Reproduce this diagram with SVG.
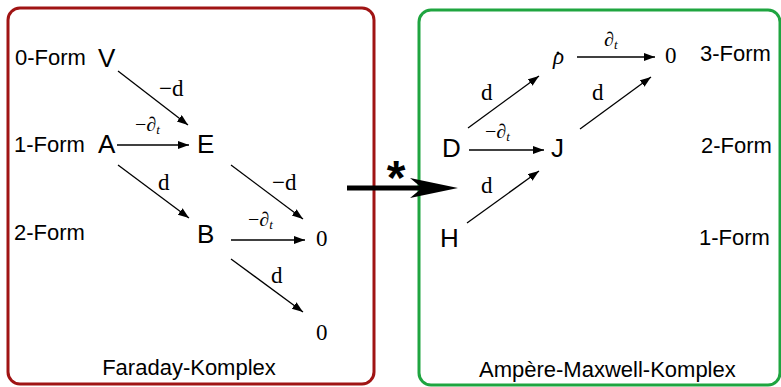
<svg xmlns="http://www.w3.org/2000/svg" width="781" height="387" viewBox="0 0 781 387">
<style>
.lbl{font-family:"Liberation Sans",Arial,sans-serif;font-size:22px;fill:#000}
.big{font-family:"Liberation Sans",Arial,sans-serif;font-size:26px;fill:#000}
.num{font-family:"Liberation Serif","Times New Roman",serif;font-size:23px;fill:#000}
.m{font-family:"Liberation Serif","Times New Roman",serif;font-size:23px;fill:#000}
.s{font-family:"Liberation Serif","Times New Roman",serif;font-size:20px;fill:#000}
.it{font-style:italic}
.sub{font-size:13px;font-style:italic}
.ar{stroke:#000;stroke-width:1.3;fill:none;marker-end:url(#ah)}
</style>
<defs>
<marker id="ah" markerUnits="userSpaceOnUse" markerWidth="12" markerHeight="10" refX="11" refY="4" orient="auto">
<path d="M0,0 L11,4 L0,8 Z" fill="#000"/>
</marker>
</defs>
<g id="faraday-box">
<rect x="8" y="8" width="366" height="376" rx="12" fill="none" stroke="#a01414" stroke-width="3"/>
<text class="lbl" x="189" y="375" text-anchor="middle">Faraday-Komplex</text>
</g>
<g id="ampere-box">
<rect x="419" y="10" width="361" height="375" rx="12" fill="none" stroke="#1fa540" stroke-width="3"/>
<text class="lbl" x="479" y="377">Ampère-Maxwell-Komplex</text>
</g>
<g id="form-labels">
<text class="lbl" x="15" y="65">0-Form</text>
<text class="lbl" x="14" y="152">1-Form</text>
<text class="lbl" x="14" y="240">2-Form</text>
<text class="lbl" x="700" y="61">3-Form</text>
<text class="lbl" x="701" y="153">2-Form</text>
<text class="lbl" x="699" y="245">1-Form</text>
</g>
<g id="node-V"><text class="big" x="98" y="67">V</text></g>
<g id="node-A"><text class="big" x="98" y="153">A</text></g>
<g id="node-E"><text class="big" x="197" y="153">E</text></g>
<g id="node-B"><text class="big" x="197" y="243">B</text></g>
<g id="node-0a"><text class="num" x="316" y="246">0</text></g>
<g id="node-0b"><text class="num" x="316" y="340">0</text></g>
<g id="node-rho"><text class="m it" x="553" y="64" font-size="21">ρ</text><circle cx="558" cy="53" r="1.5" fill="#000"/></g>
<g id="node-0c"><text class="num" x="665" y="63">0</text></g>
<g id="node-D"><text class="big" x="442" y="157">D</text></g>
<g id="node-J"><text class="big" x="551" y="157">J</text></g>
<g id="node-H"><text class="big" x="440" y="247">H</text></g>
<g id="connectors">
<line class="ar" x1="118" y1="71" x2="188" y2="125"/>
<line class="ar" x1="117" y1="145" x2="189" y2="145"/>
<line class="ar" x1="118" y1="165" x2="189" y2="218"/>
<line class="ar" x1="231" y1="165" x2="303" y2="219"/>
<line class="ar" x1="231" y1="240" x2="305" y2="240"/>
<line class="ar" x1="231" y1="259" x2="303" y2="312"/>
<line class="ar" x1="577" y1="57" x2="655" y2="57"/>
<line class="ar" x1="468" y1="128" x2="539" y2="76"/>
<line class="ar" x1="580" y1="129" x2="651" y2="77"/>
<line class="ar" x1="469" y1="150" x2="544" y2="150"/>
<line class="ar" x1="467" y1="223" x2="539" y2="171"/>
<text class="m" x="159" y="96">−d</text>
<text class="s" x="135" y="131">−<tspan class="it">∂</tspan><tspan class="sub" dy="3">t</tspan></text>
<text class="m" x="158" y="190">d</text>
<text class="m" x="272" y="190">−d</text>
<text class="s" x="248" y="226">−<tspan class="it">∂</tspan><tspan class="sub" dy="3">t</tspan></text>
<text class="m" x="271" y="283">d</text>
<text class="s" x="604" y="46"><tspan class="it">∂</tspan><tspan class="sub" dy="3">t</tspan></text>
<text class="m" x="481" y="100">d</text>
<text class="m" x="592" y="100">d</text>
<text class="s" x="485" y="138">−<tspan class="it">∂</tspan><tspan class="sub" dy="3">t</tspan></text>
<text class="m" x="481" y="193">d</text>
</g>
<g id="hodge-arrow">
<line x1="347" y1="188" x2="422" y2="188" stroke="#000" stroke-width="5"/>
<path d="M458,188 L410,178 L422,188 L410,198 Z" fill="#000"/>
<text x="396" y="194" text-anchor="middle" font-family="Liberation Sans,Arial,sans-serif" font-weight="bold" font-size="48">*</text>
</g>
</svg>
